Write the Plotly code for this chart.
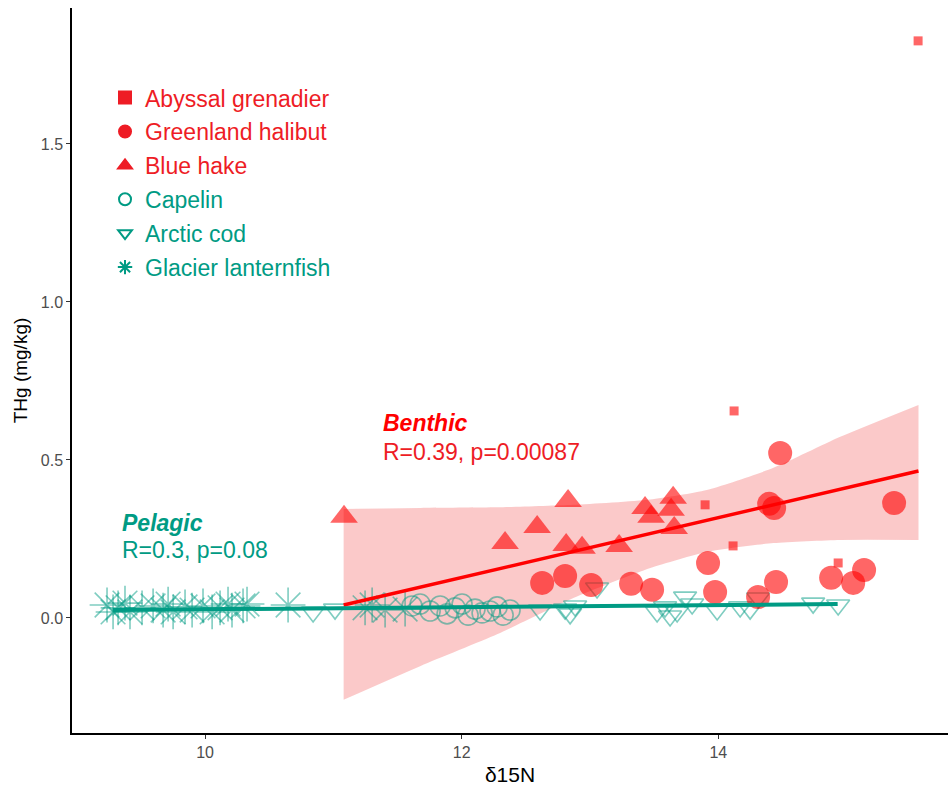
import plotly.graph_objects as go

# ---- species measurements: d15N (x) and total mercury THg in mg/kg (y) ----
grenadier_x = [15.557, 14.123, 13.897, 14.115, 14.934]
grenadier_y = [1.826, 0.655, 0.358, 0.228, 0.174]

halibut_x = [12.627, 12.806, 13.009, 13.320, 13.484, 13.920, 13.975, 14.310,
             14.396, 14.435, 14.450, 14.482, 14.879, 15.051, 15.136, 15.370]
halibut_y = [0.111, 0.133, 0.104, 0.108, 0.089, 0.174, 0.082, 0.066,
             0.361, 0.348, 0.114, 0.522, 0.127, 0.111, 0.152, 0.364]

hake_x = [11.083, 12.338, 12.588, 12.829, 12.814, 12.938, 13.227, 13.429,
          13.476, 13.648, 13.632, 13.656]
hake_y = [0.320, 0.237, 0.288, 0.370, 0.231, 0.222, 0.228, 0.348,
          0.320, 0.380, 0.342, 0.285]

capelin_x = [11.613, 11.676, 11.754, 11.832, 11.886, 11.949, 12.003, 12.050,
             12.104, 12.159, 12.221, 12.276, 12.323, 12.377]
capelin_y = [0.038, 0.044, 0.022, 0.038, 0.013, 0.032, 0.044, 0.009,
             0.028, 0.016, 0.022, 0.035, 0.009, 0.025]

cod_x = [10.842, 11.013, 12.611, 12.806, 12.845, 12.884, 13.055, 13.523,
         13.585, 13.624, 13.679, 13.741, 13.796, 13.991, 14.170, 14.248,
         14.310, 14.739, 14.934]
cod_y = [0.019, 0.028, 0.025, 0.028, 0.013, 0.038, 0.095, 0.019,
         0.035, 0.006, 0.019, 0.066, 0.044, 0.025, 0.035, 0.028,
         0.063, 0.047, 0.041]

lantern_x = [9.236, 9.283, 9.322, 9.376, 9.415, 9.509, 9.595, 9.673, 9.712,
             9.751, 9.844, 9.899, 9.984, 10.055, 10.117, 10.179, 10.210,
             10.296, 10.327, 10.647, 11.247, 11.302, 11.403, 11.559]
lantern_y = [0.041, 0.019, 0.032, 0.047, 0.019, 0.032, 0.038, 0.025, 0.044,
             0.019, 0.035, 0.025, 0.038, 0.019, 0.032, 0.044, 0.025,
             0.038, 0.044, 0.041, 0.032, 0.041, 0.025, 0.028]

# ---- linear fits and the benthic 95% confidence band ----
benthic_fit_x = [11.08, 15.56]
benthic_fit_y = [0.041, 0.465]
pelagic_fit_x = [9.28, 14.93]
pelagic_fit_y = [0.025, 0.044]

band_x = [11.08, 11.68, 12.28, 12.87, 13.47, 13.91, 14.43, 14.95, 15.56]
band_hi = [0.345, 0.348, 0.350, 0.358, 0.375, 0.405, 0.475, 0.573, 0.674]
band_lo = [-0.259, -0.152, -0.051, 0.063, 0.158, 0.209, 0.237, 0.247, 0.247]

x_ticks = [10, 12, 14]
y_ticks = [0.0, 0.5, 1.0, 1.5]

RED = "#FF0000"
RED_TXT = "#EE1C25"
TEAL = "#009B84"
RED_PT = "rgba(255,0,0,0.6)"
TEAL_PT = "rgba(0,155,132,0.5)"
FONT = "Liberation Sans, Arial, sans-serif"

fig = go.Figure()

# confidence band: lower edge, then upper edge filled down to it
fig.add_trace(go.Scatter(
    x=band_x, y=band_lo, mode="lines",
    line=dict(width=0, shape="spline", smoothing=0.6),
    hoverinfo="skip", showlegend=False))
fig.add_trace(go.Scatter(
    x=band_x, y=band_hi, mode="lines", fill="tonexty",
    fillcolor="rgba(245,120,120,0.40)",
    line=dict(width=0, shape="spline", smoothing=0.6),
    hoverinfo="skip", showlegend=False))

# pelagic species
fig.add_trace(go.Scatter(
    x=lantern_x, y=lantern_y, mode="markers", showlegend=False,
    marker=dict(symbol="asterisk-open", size=29, color=TEAL_PT,
                line=dict(color=TEAL_PT, width=1.6))))
fig.add_trace(go.Scatter(
    x=capelin_x, y=capelin_y, mode="markers", showlegend=False,
    marker=dict(symbol="circle-open", size=20, color=TEAL_PT,
                line=dict(color=TEAL_PT, width=1.6))))
fig.add_trace(go.Scatter(
    x=cod_x, y=cod_y, mode="markers", showlegend=False,
    marker=dict(symbol="triangle-down-open", size=20, color=TEAL_PT,
                line=dict(color=TEAL_PT, width=1.6))))

# benthic species
fig.add_trace(go.Scatter(
    x=hake_x, y=hake_y, mode="markers", showlegend=False,
    marker=dict(symbol="triangle-up", size=24, color=RED_PT, line=dict(width=0))))
fig.add_trace(go.Scatter(
    x=halibut_x, y=halibut_y, mode="markers", showlegend=False,
    marker=dict(symbol="circle", size=24, color=RED_PT, line=dict(width=0))))
fig.add_trace(go.Scatter(
    x=grenadier_x, y=grenadier_y, mode="markers", showlegend=False,
    marker=dict(symbol="square", size=9, color=RED_PT, line=dict(width=0))))

# regression lines
fig.add_trace(go.Scatter(x=benthic_fit_x, y=benthic_fit_y, mode="lines",
                         line=dict(color=RED, width=3.5), showlegend=False))
fig.add_trace(go.Scatter(x=pelagic_fit_x, y=pelagic_fit_y, mode="lines",
                         line=dict(color=TEAL, width=4), showlegend=False))

# legend entries (solid symbols, coloured labels)
legend_items = [
    ("Abyssal grenadier", "square", RED_TXT),
    ("Greenland halibut", "circle", RED_TXT),
    ("Blue hake", "triangle-up", RED_TXT),
    ("Capelin", "circle-open", TEAL),
    ("Arctic cod", "triangle-down-open", TEAL),
    ("Glacier lanternfish", "asterisk-open", TEAL),
]
for i, (name, sym, col) in enumerate(legend_items):
    fig.add_trace(go.Scatter(
        x=[None], y=[None], mode="markers", legendgroup=f"g{i}",
        name=f"<span style='color:{col}'>{name}</span>",
        marker=dict(symbol=sym, size=13, color=col, line=dict(color=col, width=2.5))))

annots = [
    dict(x=11.372, y=0.617, text="<b><i>Benthic</i></b>", color=RED),
    dict(x=11.372, y=0.525, text="R=0.39, p=0.00087", color=RED_TXT),
    dict(x=9.337, y=0.300, text="<b><i>Pelagic</i></b>", color=TEAL),
    dict(x=9.337, y=0.215, text="R=0.3, p=0.08", color=TEAL),
]
for a in annots:
    fig.add_annotation(x=a["x"], y=a["y"], text=a["text"], showarrow=False,
                       xanchor="left", yanchor="middle",
                       font=dict(family=FONT, size=23, color=a["color"]))

fig.update_layout(
    width=948, height=787,
    margin=dict(l=72, r=0, t=8, b=54),
    paper_bgcolor="white", plot_bgcolor="white",
    font=dict(family=FONT),
    legend=dict(x=0.0377, y=0.906, xanchor="left", yanchor="top",
                bgcolor="rgba(0,0,0,0)", font=dict(family=FONT, size=23),
                tracegroupgap=1, itemsizing="constant"),
    xaxis=dict(range=[8.963, 15.79], tickvals=x_ticks,
               ticktext=[str(t) for t in x_ticks],
               showline=True, linecolor="black", linewidth=1.5,
               ticks="outside", ticklen=4, tickcolor="#333333",
               tickfont=dict(family=FONT, size=16, color="#4D4D4D"),
               showgrid=False, zeroline=False,
               title=dict(text="δ15N", font=dict(family=FONT, size=21, color="black"),
                          standoff=7)),
    yaxis=dict(range=[-0.364, 1.930], tickvals=y_ticks,
               ticktext=[f"{t:.1f}" for t in y_ticks],
               showline=True, linecolor="black", linewidth=1.5,
               ticks="outside", ticklen=4, tickcolor="#333333",
               tickfont=dict(family=FONT, size=16, color="#4D4D4D"),
               showgrid=False, zeroline=False,
               title=dict(text="THg (mg/kg)", font=dict(family=FONT, size=19, color="black"),
                          standoff=8)),
)

fig.write_html("out.html")
